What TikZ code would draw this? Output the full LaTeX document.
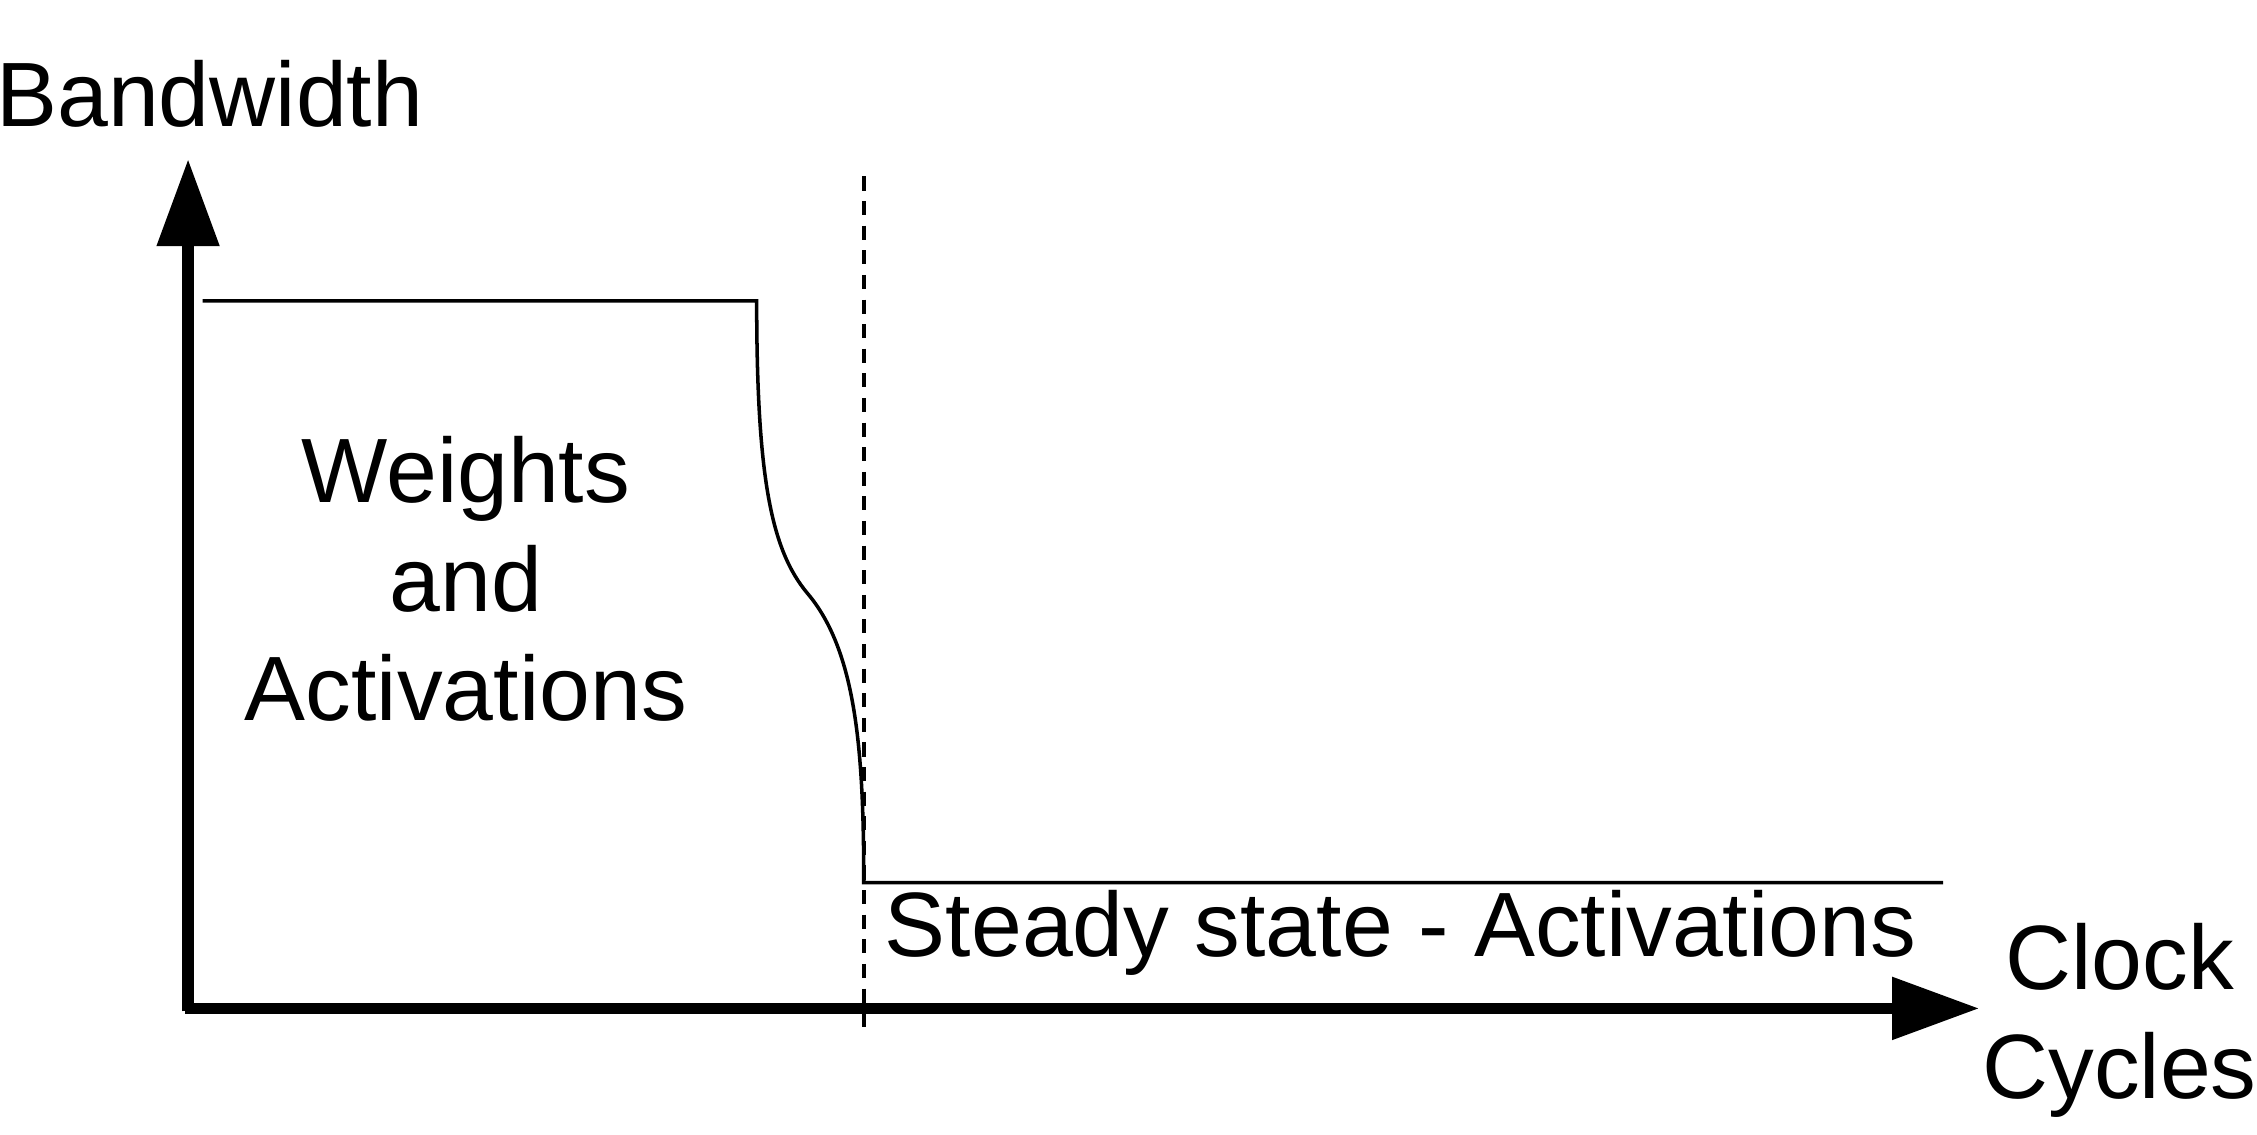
\documentclass[tikz,border=0pt]{standalone}
\usepackage{fontspec}
\setmainfont{Liberation Sans}
\usetikzlibrary{arrows.meta, positioning, calc}

\tikzset{
    axis/.style={line width=3.3pt, -{Triangle[length=0.87cm, width=0.6cm]}},
    curve/.style={line width=1pt},
    label/.style={font=\fontsize{26}{31}\selectfont, align=center}
}

\begin{document}
\begin{tikzpicture}[x=0.01447cm, y=-0.01447cm]
    \useasboundingbox (0,0) rectangle (1560,784.4);

    % Axes
    \coordinate (O) at (130,697);
    \coordinate (Ytip) at (130,110);
    \coordinate (Xtip) at (1368,697);
    \draw [axis] ($(O)+(0,2)$) -- (Ytip);
    \draw [axis] ($(O)+(-2,0)$) -- (Xtip);

    % Bandwidth profile
    \coordinate (Hstart) at (140,208);
    \coordinate (Hend) at (523,208);
    \coordinate (Lstart) at (597,610);
    \coordinate (Lend) at (1343,610);
    \draw [curve] (Hstart) -- (Hend)
        .. controls (523,330) and (533,380) .. (558,410)
        .. controls (592,450) and (597,520) .. (Lstart) -- (Lend);

    % Boundary
    \coordinate (Dtop) at (597,122);
    \coordinate (Dbot) at (597,710);
    \draw [curve, dashed, dash pattern=on 4pt off 3pt] (Dtop) -- (Dbot);

    % Labels
    \node [label] (bw) at (145,65) {Bandwidth};
    \node [label] (wa) at (322,400) {Weights\\and\\Activations};
    \node [label] (ss) at (968,645) {Steady state - Activations};
    \node [label] (cc) at (1465,705) {Clock\\Cycles};
\end{tikzpicture}
\end{document}
